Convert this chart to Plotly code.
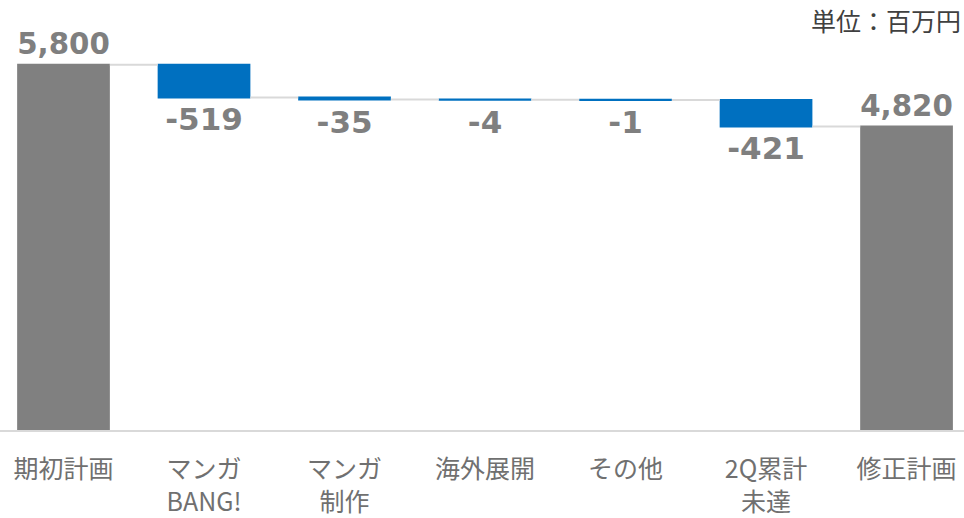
import plotly.graph_objects as go

categories = ["期初計画", "マンガ<br>BANG!", "マンガ<br>制作", "海外展開", "その他", "2Q累計<br>未達", "修正計画"]
measures = ["absolute", "relative", "relative", "relative", "relative", "relative", "total"]
values = [5800, -519, -35, -4, -1, -421, 0]
labels = ["5,800", "-519", "-35", "-4", "-1", "-421", "4,820"]

fig = go.Figure(go.Waterfall(
    x=list(range(len(categories))),
    measure=measures,
    y=values,
    text=labels,
    textposition="outside",
    textfont=dict(family="DejaVu Sans", size=31, color="#7F7F7F", weight="bold"),
    totals=dict(marker=dict(color="#808080", line=dict(width=0))),
    decreasing=dict(marker=dict(color="#0070C0", line=dict(width=0))),
    increasing=dict(marker=dict(color="#0070C0", line=dict(width=0))),
    connector=dict(mode="between", line=dict(color="#D9D9D9", width=2)),
    width=0.66,
    cliponaxis=False,
    hoverinfo="skip",
))

fig.add_annotation(
    text="単位：百万円", xref="paper", yref="paper", x=1, y=1,
    xanchor="right", yanchor="top", xshift=-1, yshift=0, showarrow=False,
    font=dict(family="Noto Sans CJK JP", size=25, color="#404040"),
)

fig.update_layout(
    width=964, height=518,
    margin=dict(l=0, r=0, t=0, b=86),
    plot_bgcolor="white", paper_bgcolor="white",
    showlegend=False,
    xaxis=dict(
        range=[-0.452, 6.409],
        tickmode="array", tickvals=list(range(len(categories))), ticktext=categories,
        tickfont=dict(family="Noto Sans CJK JP", size=25, color="#707070"),
        showline=True, linecolor="#D9D9D9", linewidth=2,
        showgrid=False, zeroline=False, ticks="", ticklabelstandoff=16,
    ),
    yaxis=dict(range=[0, 6827], visible=False, showgrid=False, zeroline=False),
)

fig.write_html(
    "out.html",
    config={"displayModeBar": False},
    post_script="document.body.style.margin='0';document.body.style.overflow='hidden';",
)
